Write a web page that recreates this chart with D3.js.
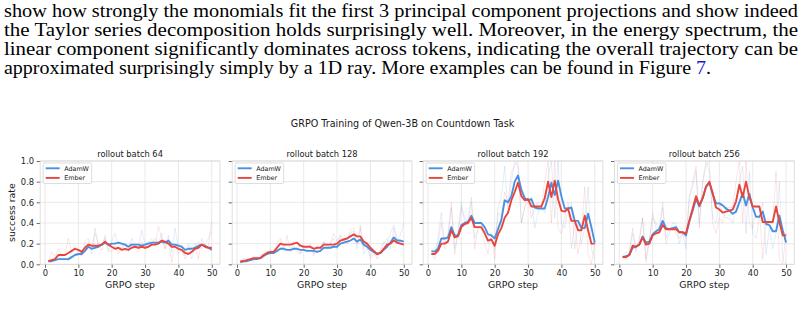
<!DOCTYPE html>
<html>
<head>
<meta charset="utf-8">
<script src="https://cdn.jsdelivr.net/npm/d3@7"></script>
<style>
  html, body { margin: 0; padding: 0; background: #fff; }
  svg { display: block; }
</style>
</head>
<body>
<div id="chart"></div>
<script>
// ---- data ----
const steps = d3.range(1, 51);
const xTicks = [0, 10, 20, 30, 40, 50];
const yTicks = [0, 0.2, 0.4, 0.6, 0.8, 1.0];
const batches = ["rollout batch 64", "rollout batch 128", "rollout batch 192", "rollout batch 256"];
const seriesNames = ["AdamW", "Ember"];

const adamw64 = [0.03,0.03,0.04,0.05,0.05,0.05,0.05,0.07,0.09,0.10,0.10,0.13,0.17,0.15,0.16,0.17,0.19,0.21,0.19,0.20,0.20,0.21,0.20,0.19,0.17,0.19,0.19,0.19,0.18,0.19,0.20,0.21,0.21,0.21,0.22,0.21,0.23,0.19,0.19,0.18,0.17,0.14,0.15,0.15,0.16,0.18,0.19,0.18,0.16,0.14];
const ember64 = [0.03,0.04,0.05,0.09,0.09,0.09,0.11,0.13,0.15,0.14,0.12,0.16,0.19,0.18,0.18,0.18,0.19,0.22,0.19,0.17,0.15,0.16,0.14,0.15,0.14,0.16,0.17,0.16,0.17,0.16,0.17,0.19,0.19,0.20,0.23,0.22,0.20,0.17,0.17,0.15,0.14,0.11,0.10,0.12,0.15,0.16,0.19,0.17,0.16,0.16];
const adamw128 = [0.02,0.03,0.03,0.04,0.05,0.05,0.06,0.08,0.10,0.11,0.11,0.13,0.15,0.15,0.14,0.14,0.15,0.15,0.14,0.14,0.13,0.13,0.13,0.12,0.13,0.16,0.16,0.16,0.17,0.17,0.20,0.21,0.22,0.23,0.25,0.22,0.24,0.19,0.17,0.14,0.12,0.10,0.11,0.14,0.17,0.21,0.26,0.23,0.23,0.22];
const ember128 = [0.03,0.03,0.04,0.05,0.06,0.06,0.06,0.09,0.11,0.12,0.12,0.16,0.20,0.19,0.19,0.19,0.20,0.21,0.18,0.17,0.17,0.17,0.15,0.16,0.16,0.19,0.19,0.19,0.19,0.20,0.23,0.24,0.25,0.27,0.29,0.27,0.27,0.22,0.20,0.16,0.13,0.10,0.11,0.15,0.19,0.20,0.23,0.21,0.20,0.19];
const adamw192 = [0.125,0.125,0.15,0.25,0.25,0.26,0.36,0.28,0.28,0.38,0.40,0.41,0.47,0.40,0.40,0.40,0.36,0.29,0.28,0.25,0.34,0.43,0.62,0.60,0.66,0.80,0.86,0.72,0.64,0.62,0.63,0.55,0.54,0.54,0.54,0.65,0.79,0.67,0.81,0.66,0.54,0.54,0.55,0.42,0.42,0.35,0.35,0.49,0.36,0.21];
const ember192 = [0.10,0.10,0.13,0.20,0.20,0.22,0.33,0.26,0.27,0.36,0.39,0.40,0.45,0.36,0.36,0.36,0.30,0.23,0.24,0.18,0.29,0.35,0.45,0.50,0.62,0.70,0.79,0.66,0.62,0.63,0.56,0.56,0.56,0.56,0.64,0.80,0.65,0.81,0.63,0.52,0.51,0.54,0.42,0.42,0.33,0.33,0.47,0.33,0.20,0.20];
const adamw256 = [0.07,0.08,0.09,0.16,0.17,0.19,0.27,0.21,0.22,0.29,0.32,0.34,0.42,0.35,0.34,0.35,0.36,0.31,0.31,0.28,0.42,0.52,0.63,0.56,0.64,0.75,0.79,0.68,0.59,0.59,0.57,0.54,0.52,0.49,0.51,0.60,0.69,0.57,0.68,0.55,0.46,0.46,0.51,0.39,0.38,0.32,0.32,0.47,0.33,0.21];
const ember256 = [0.07,0.07,0.09,0.18,0.17,0.19,0.26,0.19,0.20,0.28,0.30,0.31,0.38,0.34,0.34,0.34,0.34,0.31,0.31,0.30,0.42,0.54,0.66,0.57,0.64,0.75,0.80,0.69,0.55,0.53,0.50,0.51,0.52,0.53,0.61,0.77,0.65,0.80,0.65,0.56,0.56,0.56,0.41,0.41,0.41,0.41,0.56,0.41,0.28,0.28];

// raw (unsmoothed) runs drawn faintly behind
const adamw64Raw = [0.02,0.05,0.03,0.08,0.04,0.06,0.03,0.12,0.10,0.09,0.12,0.18,0.22,0.10,0.35,0.18,0.20,0.25,0.12,0.22,0.30,0.18,0.15,0.20,0.12,0.25,0.18,0.15,0.33,0.20,0.22,0.18,0.25,0.20,0.30,0.15,0.28,0.12,0.35,0.15,0.12,0.08,0.20,0.05,0.18,0.22,0.15,0.20,0.25,0.32];
const ember64Raw = [0.03,0.12,0.06,0.15,0.08,0.10,0.25,0.12,0.18,0.10,0.08,0.22,0.25,0.15,0.30,0.20,0.13,0.28,0.15,0.12,0.18,0.10,0.20,0.12,0.18,0.20,0.15,0.12,0.22,0.15,0.20,0.25,0.18,0.37,0.25,0.15,0.22,0.02,0.20,0.10,0.15,0.05,0.12,0.18,0.20,0.05,0.25,0.15,0.18,0.42];
const adamw128Raw = [0.02,0.06,0.03,0.05,0.02,0.08,0.05,0.10,0.12,0.15,0.10,0.18,0.20,0.12,0.15,0.13,0.18,0.12,0.10,0.15,0.12,0.16,0.10,0.14,0.12,0.22,0.15,0.20,0.25,0.15,0.28,0.22,0.25,0.30,0.32,0.15,0.35,0.10,0.15,0.08,0.12,0.05,0.15,0.22,0.20,0.30,0.38,0.25,0.28,0.40];
const ember128Raw = [0.03,0.05,0.06,0.04,0.08,0.05,0.07,0.12,0.13,0.10,0.14,0.20,0.25,0.15,0.28,0.12,0.22,0.20,0.10,0.18,0.15,0.20,0.08,0.18,0.15,0.22,0.18,0.20,0.30,0.22,0.28,0.25,0.20,0.33,0.35,0.20,0.38,0.15,0.20,0.05,0.10,0.08,0.12,0.20,0.25,0.15,0.35,0.20,0.22,0.18];
const adamw192Raw = [0.15,0.10,0.25,0.50,0.20,0.30,0.55,0.15,0.30,0.60,0.40,0.45,0.65,0.25,0.35,0.40,0.30,0.20,0.25,0.15,0.55,0.65,0.95,0.50,0.80,1.00,0.95,0.40,0.55,0.60,0.65,0.35,0.50,0.55,0.50,0.85,1.00,0.45,1.00,0.40,0.35,0.55,0.60,0.15,0.40,0.20,0.35,0.75,0.15,0.05];
const ember192Raw = [0.10,0.05,0.20,0.40,0.15,0.25,0.60,0.10,0.30,0.55,0.45,0.40,0.60,0.15,0.35,0.35,0.20,0.10,0.30,0.05,0.50,0.45,0.70,0.60,0.90,0.95,1.00,0.40,0.55,0.65,0.45,0.55,0.60,0.55,0.80,1.00,0.40,1.00,0.35,0.30,0.45,0.60,0.15,0.40,0.10,0.30,0.75,0.10,0.00,0.20];
const adamw256Raw = [0.08,0.12,0.10,0.30,0.15,0.22,0.45,0.05,0.25,0.45,0.40,0.35,0.60,0.20,0.30,0.40,0.40,0.20,0.30,0.15,0.65,0.75,0.90,0.40,0.80,1.00,0.90,0.45,0.40,0.60,0.50,0.45,0.45,0.40,0.55,0.80,0.95,0.30,0.90,0.30,0.25,0.45,0.60,0.10,0.35,0.15,0.30,0.80,0.05,0.00];
const ember256Raw = [0.06,0.05,0.12,0.35,0.12,0.25,0.45,0.02,0.22,0.50,0.35,0.30,0.55,0.25,0.35,0.35,0.30,0.25,0.30,0.25,0.65,0.80,0.95,0.35,0.80,0.95,1.00,0.40,0.30,0.45,0.40,0.55,0.55,0.55,0.80,1.00,0.40,1.00,0.40,0.35,0.55,0.55,0.05,0.40,0.40,0.40,0.90,0.05,0.00,0.30];

const smooth = [[adamw64, ember64], [adamw128, ember128], [adamw192, ember192], [adamw256, ember256]];
const raw = [[adamw64Raw, ember64Raw], [adamw128Raw, ember128Raw], [adamw192Raw, ember192Raw], [adamw256Raw, ember256Raw]];

const paperLines = [
  "show how strongly the monomials fit the first 3 principal component projections and show indeed",
  "the Taylor series decomposition holds surprisingly well.  Moreover, in the energy spectrum, the",
  "linear component significantly dominates across tokens, indicating the overall trajectory can be"
];
const lastLine = "approximated surprisingly simply by a 1D ray. More examples can be found in Figure ";

// ---- layout ----
const W = 804, H = 309;
const colors = ["#4a90e2", "#e8453c"];
const faint = ["rgba(74,144,226,0.2)", "rgba(232,69,60,0.17)"];
const zeroPx = [45, 237, 428, 619.3];   // pixel of step 0 in each panel
const pxPerStep = 3.335;
const yTop = 161, yBottom = 264.3;
const font = "'DejaVu Sans', sans-serif";
const ink = "#1a1a1a";

const svg = d3.select("#chart").append("svg")
  .attr("width", W).attr("height", H)
  .attr("viewBox", [0, 0, W, H]);

// paper text above the figure
const para = svg.append("g")
  .attr("font-family", "'Liberation Serif', 'Times New Roman', Times, serif")
  .attr("font-size", 19)
  .attr("fill", "#000");
paperLines.forEach((t, i) => {
  para.append("text")
    .attr("x", 4).attr("y", 16.5 + i * 19.2)
    .attr("textLength", 794)
    .attr("lengthAdjust", "spacingAndGlyphs")
    .text(t);
});
const last = para.append("text")
  .attr("x", 4).attr("y", 16.5 + 3 * 19.2)
  .attr("textLength", 707)
  .attr("lengthAdjust", "spacingAndGlyphs");
last.append("tspan").text(lastLine);
last.append("tspan").attr("fill", "#1a1acc").text("7");
last.append("tspan").text(".");

svg.append("text")
  .attr("x", 402.5).attr("y", 126.8)
  .attr("text-anchor", "middle")
  .attr("font-family", font).attr("font-size", 9.6)
  .attr("fill", ink)
  .text("GRPO Training of Qwen-3B on Countdown Task");

const y = d3.scaleLinear().domain([0, 1]).range([yBottom, yTop]);

batches.forEach((title, p) => {
  const x = d3.scaleLinear()
    .domain([-1.45, 52.45])
    .range([zeroPx[p] - 1.45 * pxPerStep, zeroPx[p] + 52.45 * pxPerStep]);
  const [x0, x1] = x.range();
  const g = svg.append("g");

  g.append("clipPath").attr("id", "clip" + p)
    .append("rect").attr("x", x0).attr("y", yTop).attr("width", x1 - x0).attr("height", yBottom - yTop);

  // grid
  g.append("g").selectAll("line").data(yTicks).join("line")
    .attr("x1", x0).attr("x2", x1)
    .attr("y1", d => y(d)).attr("y2", d => y(d))
    .attr("stroke", "#e3e3e3").attr("stroke-width", 0.8);
  g.append("g").selectAll("line").data(xTicks).join("line")
    .attr("x1", d => x(d)).attr("x2", d => x(d))
    .attr("y1", yTop).attr("y2", yBottom)
    .attr("stroke", "#e3e3e3").attr("stroke-width", 0.8);

  // axes
  const xAxis = g.append("g")
    .attr("transform", `translate(0,${yBottom})`)
    .call(d3.axisBottom(x).tickValues(xTicks).tickSize(3.5).tickPadding(2.3).tickFormat(d3.format("d")));
  xAxis.select(".domain").remove();
  xAxis.selectAll(".tick line").attr("stroke", "#444").attr("stroke-width", 0.8);
  xAxis.selectAll("text").attr("font-family", font).attr("font-size", 8.4).attr("fill", "#262626");

  const yAxis = g.append("g")
    .attr("transform", `translate(${x0},0)`)
    .call(d3.axisLeft(y).tickValues(yTicks).tickSize(3.5).tickPadding(2.5).tickFormat(d3.format(".1f")));
  yAxis.select(".domain").remove();
  yAxis.selectAll(".tick line").attr("stroke", "#444").attr("stroke-width", 0.8);
  yAxis.selectAll("text").attr("font-family", font).attr("font-size", 8.4).attr("fill", "#262626");
  if (p > 0) yAxis.selectAll("text").remove();

  // raw runs, then smoothed runs
  const line = d3.line().x((d, i) => x(steps[i])).y(d => y(d));
  const plot = g.append("g").attr("clip-path", `url(#clip${p})`);
  raw[p].forEach((vals, s) => {
    plot.append("path").attr("d", line(vals))
      .attr("fill", "none").attr("stroke", faint[s]).attr("stroke-width", 0.8);
  });
  smooth[p].forEach((vals, s) => {
    plot.append("path").attr("d", line(vals))
      .attr("fill", "none").attr("stroke", colors[s]).attr("stroke-width", 1.9)
      .attr("stroke-linejoin", "round");
  });

  // frame
  g.append("rect")
    .attr("x", x0).attr("y", yTop).attr("width", x1 - x0).attr("height", yBottom - yTop)
    .attr("fill", "none").attr("stroke", "#d6d6d6").attr("stroke-width", 0.8);

  // titles
  g.append("text")
    .attr("x", (x0 + x1) / 2).attr("y", 157.2)
    .attr("text-anchor", "middle")
    .attr("font-family", font).attr("font-size", 8.3).attr("fill", ink)
    .text(title);
  g.append("text")
    .attr("x", (x0 + x1) / 2).attr("y", 287.8)
    .attr("text-anchor", "middle")
    .attr("font-family", font).attr("font-size", 9.4).attr("fill", ink)
    .text("GRPO step");

  // legend
  const lg = g.append("g").attr("transform", `translate(${x0 + 3},${yTop + 2})`);
  lg.append("rect")
    .attr("width", 48.5).attr("height", 20.5).attr("rx", 1.5)
    .attr("fill", "rgba(255,255,255,0.85)").attr("stroke", "#d0d0d0").attr("stroke-width", 0.7);
  seriesNames.forEach((name, s) => {
    const yy = 5.3 + s * 9.6;
    lg.append("line").attr("x1", 2.5).attr("x2", 16.5).attr("y1", yy).attr("y2", yy)
      .attr("stroke", colors[s]).attr("stroke-width", 1.9);
    lg.append("text").attr("x", 21).attr("y", yy + 2.2)
      .attr("font-family", font).attr("font-size", 6.4).attr("fill", ink)
      .text(name);
  });
});

svg.append("text")
  .attr("transform", `translate(14.5,${(yTop + yBottom) / 2}) rotate(-90)`)
  .attr("text-anchor", "middle")
  .attr("font-family", font).attr("font-size", 9.4).attr("fill", ink)
  .text("success rate");
</script>
</body>
</html>
